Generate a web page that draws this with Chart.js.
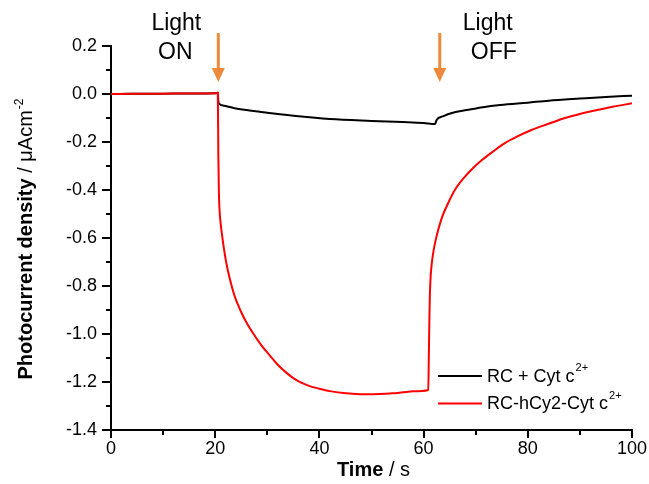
<!DOCTYPE html>
<html><head><meta charset="utf-8">
<script src="https://cdn.jsdelivr.net/npm/chart.js@4.4.1/dist/chart.umd.min.js"></script>
<style>html,body{margin:0;padding:0;background:#fff;}canvas{display:block;}</style>
</head><body>
<canvas id="c" width="649" height="484"></canvas>
<script>
// ---- data ----
const blackTime   = [0, 4, 8, 12, 16, 20, 20.5, 20.6, 20.8, 22, 23.5, 26, 30, 36, 42, 50, 56, 60, 62.2, 62.5, 63.8, 65.6, 68.3, 71.4, 74.7, 80, 84, 90, 95, 100];
const blackValues = [0, 0.001, 0.001, 0.002, 0.002, 0.003, 0.005, -0.03, -0.042, -0.05, -0.058, -0.067, -0.078, -0.093, -0.104, -0.112, -0.117, -0.121, -0.125, -0.108, -0.092, -0.078, -0.067, -0.055, -0.046, -0.036, -0.028, -0.019, -0.012, -0.007];
const redTime   = [0, 4, 8, 12, 16, 20, 20.5, 20.6, 20.7, 20.8, 21.0, 21.3, 21.6, 22.1, 22.8, 23.7, 24.8, 26, 27.3, 28.8, 30.5, 32, 33.7, 35, 36.5, 38, 40, 42, 44.6, 47, 49, 51.5, 54, 56, 58, 60.9, 61.0, 61.1, 61.2, 61.35, 61.6, 61.9, 62.3, 62.8, 63.6, 64.7, 66, 67.9, 69.5, 71.2, 73.3, 75.6, 78, 80.7, 84, 87.1, 90, 93.5, 96.5, 100];
const redValues = [0, 0.001, 0.001, 0.002, 0.002, 0.003, 0.005, -0.25, -0.4, -0.47, -0.53, -0.585, -0.633, -0.7, -0.77, -0.84, -0.9, -0.952, -0.998, -1.045, -1.09, -1.128, -1.162, -1.184, -1.203, -1.216, -1.228, -1.238, -1.246, -1.25, -1.251, -1.25, -1.247, -1.243, -1.239, -1.233, -1.1, -0.95, -0.84, -0.76, -0.7, -0.655, -0.61, -0.567, -0.51, -0.455, -0.4, -0.345, -0.308, -0.275, -0.24, -0.205, -0.177, -0.15, -0.124, -0.1, -0.083, -0.066, -0.052, -0.039];
const seriesLabels = ['RC + Cyt c', 'RC-hCy2-Cyt c'];
const seriesSup = ['2+', '2+'];
const xTicks = [0, 20, 40, 60, 80, 100];
const xMinorTicks = [10, 30, 50, 70, 90];
const yTicks = [0.2, 0.0, -0.2, -0.4, -0.6, -0.8, -1.0, -1.2, -1.4];
const yMinorTicks = [0.1, -0.1, -0.3, -0.5, -0.7, -0.9, -1.1, -1.3];
const eventTimes = [20.6, 63.1];
const eventLines = [['Light', 'ON'], ['Light', 'OFF']];
const xTitleBold = 'Time', xTitleRest = ' / s';
const yTitleBold = 'Photocurrent density', yTitleRest = ' / \u03BCAcm', yTitleSup = '-2';

const FONT = '"Liberation Sans", Arial, sans-serif';
const ORANGE = '#EE8A3C';

const overlay = {
  id: 'overlay',
  afterDraw(chart) {
    const ctx = chart.ctx, xs = chart.scales.x, ys = chart.scales.y, a = chart.chartArea;
    ctx.save();
    ctx.strokeStyle = '#000'; ctx.lineWidth = 2; ctx.lineCap = 'butt';
    const yt = (v, len) => { const p = Math.round(ys.getPixelForValue(v)); ctx.beginPath(); ctx.moveTo(a.left, p); ctx.lineTo(a.left - len, p); ctx.stroke(); };
    const xt = (v, len) => { const p = Math.round(xs.getPixelForValue(v)); ctx.beginPath(); ctx.moveTo(p, a.bottom); ctx.lineTo(p, a.bottom + len); ctx.stroke(); };
    yTicks.forEach(v => yt(v, 9)); yMinorTicks.forEach(v => yt(v, 5));
    xTicks.forEach(v => xt(v, 8)); xMinorTicks.forEach(v => xt(v, 5));

    eventTimes.forEach((t, i) => {
      const px = xs.getPixelForValue(t);
      ctx.fillStyle = ORANGE;
      ctx.fillRect(px - 1.5, 33, 3, 37);
      ctx.beginPath(); ctx.moveTo(px - 6.5, 68); ctx.lineTo(px + 6.5, 68); ctx.lineTo(px, 82); ctx.closePath(); ctx.fill();
      ctx.fillStyle = '#000'; ctx.font = '23px ' + FONT; ctx.textAlign = 'center'; ctx.textBaseline = 'middle';
      const offs = i === 0 ? [-42, -43] : [48, 54];
      ctx.fillText(eventLines[i][0], px + offs[0], 24);
      ctx.fillText(eventLines[i][1], px + offs[1], 53);
    });

    const colors = chart.data.datasets.map(d => d.borderColor);
    const legY = [376, 403.5];
    seriesLabels.forEach((lab, i) => {
      ctx.strokeStyle = colors[i]; ctx.lineWidth = 2;
      ctx.beginPath(); ctx.moveTo(438, legY[i]); ctx.lineTo(482, legY[i]); ctx.stroke();
      ctx.fillStyle = '#000'; ctx.textAlign = 'left'; ctx.textBaseline = 'middle';
      ctx.font = '18px ' + FONT;
      ctx.fillText(lab, 487, legY[i] + 1);
      const w = ctx.measureText(lab).width;
      ctx.font = '11px ' + FONT;
      ctx.fillText(seriesSup[i], 487 + w + 1, legY[i] - 8);
    });

    ctx.textBaseline = 'middle'; ctx.textAlign = 'left'; ctx.fillStyle = '#000';
    ctx.font = 'bold 20px ' + FONT; const w1 = ctx.measureText(xTitleBold).width;
    ctx.font = '20px ' + FONT; const w2 = ctx.measureText(xTitleRest).width;
    let sx = (a.left + a.right) / 2 - (w1 + w2) / 2 + 2;
    ctx.font = 'bold 20px ' + FONT; ctx.fillText(xTitleBold, sx, 470);
    ctx.font = '20px ' + FONT; ctx.fillText(xTitleRest, sx + w1, 470);

    ctx.save();
    ctx.translate(32, (a.top + a.bottom) / 2 + 1);
    ctx.rotate(-Math.PI / 2);
    ctx.textBaseline = 'alphabetic';
    ctx.font = 'bold 20px ' + FONT; const b1 = ctx.measureText(yTitleBold).width;
    ctx.font = '20px ' + FONT; const b2 = ctx.measureText(yTitleRest).width;
    ctx.font = '12px ' + FONT; const b3 = ctx.measureText(yTitleSup).width;
    let s = -(b1 + b2 + b3 + 1) / 2;
    ctx.font = 'bold 20px ' + FONT; ctx.fillText(yTitleBold, s, 0);
    ctx.font = '20px ' + FONT; ctx.fillText(yTitleRest, s + b1, 0);
    ctx.font = '12px ' + FONT; ctx.fillText(yTitleSup, s + b1 + b2 + 1, -9);
    ctx.restore();
    ctx.restore();
  }
};

new Chart(document.getElementById('c'), {
  type: 'line',
  data: {
    datasets: [
      { label: seriesLabels[0] + seriesSup[0], data: blackTime.map((t, i) => ({ x: t, y: blackValues[i] })),
        borderColor: '#000000', borderWidth: 2, pointRadius: 0, cubicInterpolationMode: 'monotone', order: 1 },
      { label: seriesLabels[1] + seriesSup[1], data: redTime.map((t, i) => ({ x: t, y: redValues[i] })),
        borderColor: '#FF0000', borderWidth: 2, pointRadius: 0, cubicInterpolationMode: 'monotone', order: 0 }
    ]
  },
  options: {
    responsive: false, animation: false, devicePixelRatio: 1,
    layout: { padding: { top: 46, right: 17, left: 0, bottom: 0 } },
    plugins: { legend: { display: false }, tooltip: { enabled: false } },
    scales: {
      x: {
        type: 'linear', min: 0, max: 100,
        afterFit(s) { s.height = 54; s.paddingLeft = 0; s.paddingRight = 0; },
        afterBuildTicks(s) { s.ticks = xTicks.map(v => ({ value: v })); },
        grid: { display: false, drawTicks: false },
        border: { display: true, color: '#000', width: 2 },
        ticks: { padding: 8, color: '#000', maxRotation: 0, font: { family: FONT, size: 18 }, callback: v => String(v) }
      },
      y: {
        type: 'linear', min: -1.4, max: 0.2,
        afterFit(s) { s.width = 111; s.paddingTop = 0; s.paddingBottom = 0; },
        afterBuildTicks(s) { s.ticks = yTicks.map(v => ({ value: v })); },
        grid: { display: false, drawTicks: false },
        border: { display: true, color: '#000', width: 2 },
        ticks: { padding: 14, color: '#000', font: { family: FONT, size: 18 }, callback: v => (Math.abs(v) < 1e-9 ? 0 : v).toFixed(1) }
      }
    }
  },
  plugins: [overlay]
});
</script>
</body></html>
